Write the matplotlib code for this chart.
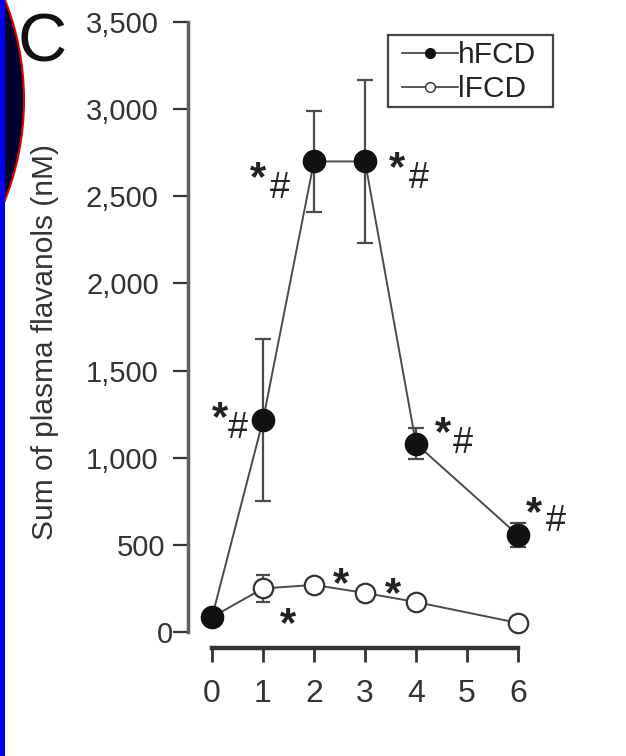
import matplotlib
matplotlib.use("Agg")
import matplotlib.pyplot as plt
from matplotlib.lines import Line2D
from matplotlib.patches import Rectangle, Circle
from matplotlib.transforms import ScaledTranslation

plt.rcParams['font.family'] = ['Liberation Sans', 'DejaVu Sans']

# Time after intake (h) and plasma flavanol sums (nM)
hours = [0, 1, 2, 3, 4, 6]
hfcd_mean = [85, 1215, 2700, 2700, 1080, 556]
hfcd_err = [20, 465, 290, 470, 88, 70]
lfcd_mean = [85, 250, 270, 224, 172, 52]
lfcd_err = [10, 75, 22, 15, 30, 12]

# Significance marks next to each point
hfcd_marks = ["", "*#", "*#", "*#", "*#", "*#"]
lfcd_marks = ["", "*", "*", "*", "", ""]

y_ticks = [0, 500, 1000, 1500, 2000, 2500, 3000, 3500]
x_ticks = [0, 1, 2, 3, 4, 5, 6]

W, H = 626, 756
fig = plt.figure(figsize=(W / 100, H / 100), dpi=100)
fig.patch.set_facecolor("white")

# Slide decoration: dark disc with red rim, blue edge strip
fig.add_artist(Circle((-2.49, 6.56), 2.73, transform=fig.dpi_scale_trans,
                      facecolor="#00002e", edgecolor="#e00000", linewidth=1.5,
                      zorder=1))
fig.add_artist(Rectangle((0, 0), 5 / W, 1, transform=fig.transFigure,
                         facecolor="#0000f0", edgecolor="none", zorder=2))

left_px, right_px, top_px, bot_px = 180, 590, 10, 700
ax = fig.add_axes([left_px / W, 1 - bot_px / H,
                   (right_px - left_px) / W, (bot_px - top_px) / H])
ax.patch.set_alpha(0)

x0_px, x_scale = 212, 51.0
y0_px, y_scale = 632, 610 / 3500
ax.set_xlim((left_px - x0_px) / x_scale, (right_px - x0_px) / x_scale)
ax.set_ylim((y0_px - bot_px) / y_scale, (y0_px - top_px) / y_scale)

line_col = "#4a4a4a"

# Low-flavanol series (open circles)
ax.errorbar(hours, lfcd_mean, yerr=lfcd_err, fmt="o", color=line_col,
            markersize=14, markerfacecolor="white", markeredgecolor="#333333",
            markeredgewidth=1.6, ecolor=line_col, elinewidth=1.3, capsize=5,
            capthick=1.3, linestyle="-", linewidth=1.4, zorder=3)
# High-flavanol series (filled circles)
ax.errorbar(hours, hfcd_mean, yerr=hfcd_err, fmt="o", color=line_col,
            markersize=16, markerfacecolor="#111111", markeredgecolor="#111111",
            ecolor=line_col, elinewidth=1.6, capsize=6, capthick=1.6,
            linestyle="-", linewidth=1.4, zorder=4)

star_fs, hash_fs = 30, 26
star_lift = 0.3 * star_fs   # asterisk ink sits high in its text box
hash_lift = 0.1 * hash_fs

# Marker annotations: offsets (points) of the star and hash ink centres
star_off = {1: (-31, 10), 2: (-40, -3.6), 3: (23, 3.6), 4: (19.4, 15.8), 6: (11.5, 23.8)}
hash_off = {1: (-18, -3.6), 2: (-24.5, -16.6), 3: (38.9, -9.4), 4: (33.8, 2.9), 6: (27.4, 12.2)}
for x, m, v in zip(hours, hfcd_marks, hfcd_mean):
    if not m:
        continue
    sx, sy = star_off[x]
    ax.annotate(m[0], (x, v), xytext=(sx, sy - star_lift), textcoords="offset points",
                ha="center", va="center", fontsize=star_fs, fontweight="bold",
                color="#222222")
    hx, hy = hash_off[x]
    ax.annotate(m[1], (x, v), xytext=(hx, hy - hash_lift), textcoords="offset points",
                ha="center", va="center", fontsize=hash_fs, color="#222222")

lstar_off = {1: (18, -17.3), 2: (19.4, 8.6), 3: (20, 7.2)}
for x, m, v in zip(hours, lfcd_marks, lfcd_mean):
    if not m:
        continue
    sx, sy = lstar_off[x]
    ax.annotate(m, (x, v), xytext=(sx, sy - star_lift), textcoords="offset points",
                ha="center", va="center", fontsize=star_fs, fontweight="bold",
                color="#222222")

# Axes styling: detached spines
for s in ("top", "right"):
    ax.spines[s].set_visible(False)
ax.spines["left"].set_position(("data", (188 - x0_px) / x_scale))
ax.spines["left"].set_bounds(0, 3500)
ax.spines["left"].set_color("#606060")
ax.spines["left"].set_linewidth(2.5)
ax.spines["bottom"].set_position(("data", (y0_px - 648) / y_scale))
ax.spines["bottom"].set_bounds(0, 6)
ax.spines["bottom"].set_color("#333333")
ax.spines["bottom"].set_linewidth(3.2)

ax.set_yticks(y_ticks)
ax.set_yticklabels([f"{v:,}" for v in y_ticks])
ax.set_xticks(x_ticks)
ax.set_xticklabels([str(v) for v in x_ticks])
ax.tick_params(axis="y", direction="out", length=11, width=1.6, colors="#333333",
               labelsize=21, pad=10)
ax.tick_params(axis="x", direction="out", length=10, width=2, colors="#333333",
               labelsize=23, pad=12)

# The two lowest labels sit a little closer to the axis
for lab, shift in zip(ax.get_yticklabels()[:2], (14, 6)):
    lab.set_transform(lab.get_transform() +
                      ScaledTranslation(shift / 100, 0, fig.dpi_scale_trans))

fig.text(45 / W, 1 - 342 / H, "Sum of plasma flavanols (nM)", rotation=90,
         ha="center", va="center", fontsize=21.5, color="#333333")

fig.text(42 / W, 1 - 43 / H, "C", ha="center", va="center", fontsize=49,
         color="#111111")

# Legend entries without their own frame; a plain box is drawn around them
handles = [
    Line2D([], [], color=line_col, marker="o", markersize=7,
           markerfacecolor="#111111", markeredgecolor="#111111", linewidth=1.3),
    Line2D([], [], color=line_col, marker="o", markersize=7,
           markerfacecolor="white", markeredgecolor="#333333", linewidth=1.3),
]
fig.legend(handles, ["hFCD", "lFCD"], loc="upper left",
           bbox_to_anchor=(402 / W, 1 - 41 / H), fontsize=21.5,
           frameon=False, handlelength=1.86, handletextpad=0.0,
           borderpad=0.0, labelspacing=0.2, borderaxespad=0,
           labelcolor="#222222")
fig.add_artist(Rectangle((388 / W, 1 - 107 / H), (553 - 388) / W, (107 - 35) / H,
                         transform=fig.transFigure, facecolor="none",
                         edgecolor="#444444", linewidth=1.6, zorder=5))

fig.savefig("out.png", dpi=100)
